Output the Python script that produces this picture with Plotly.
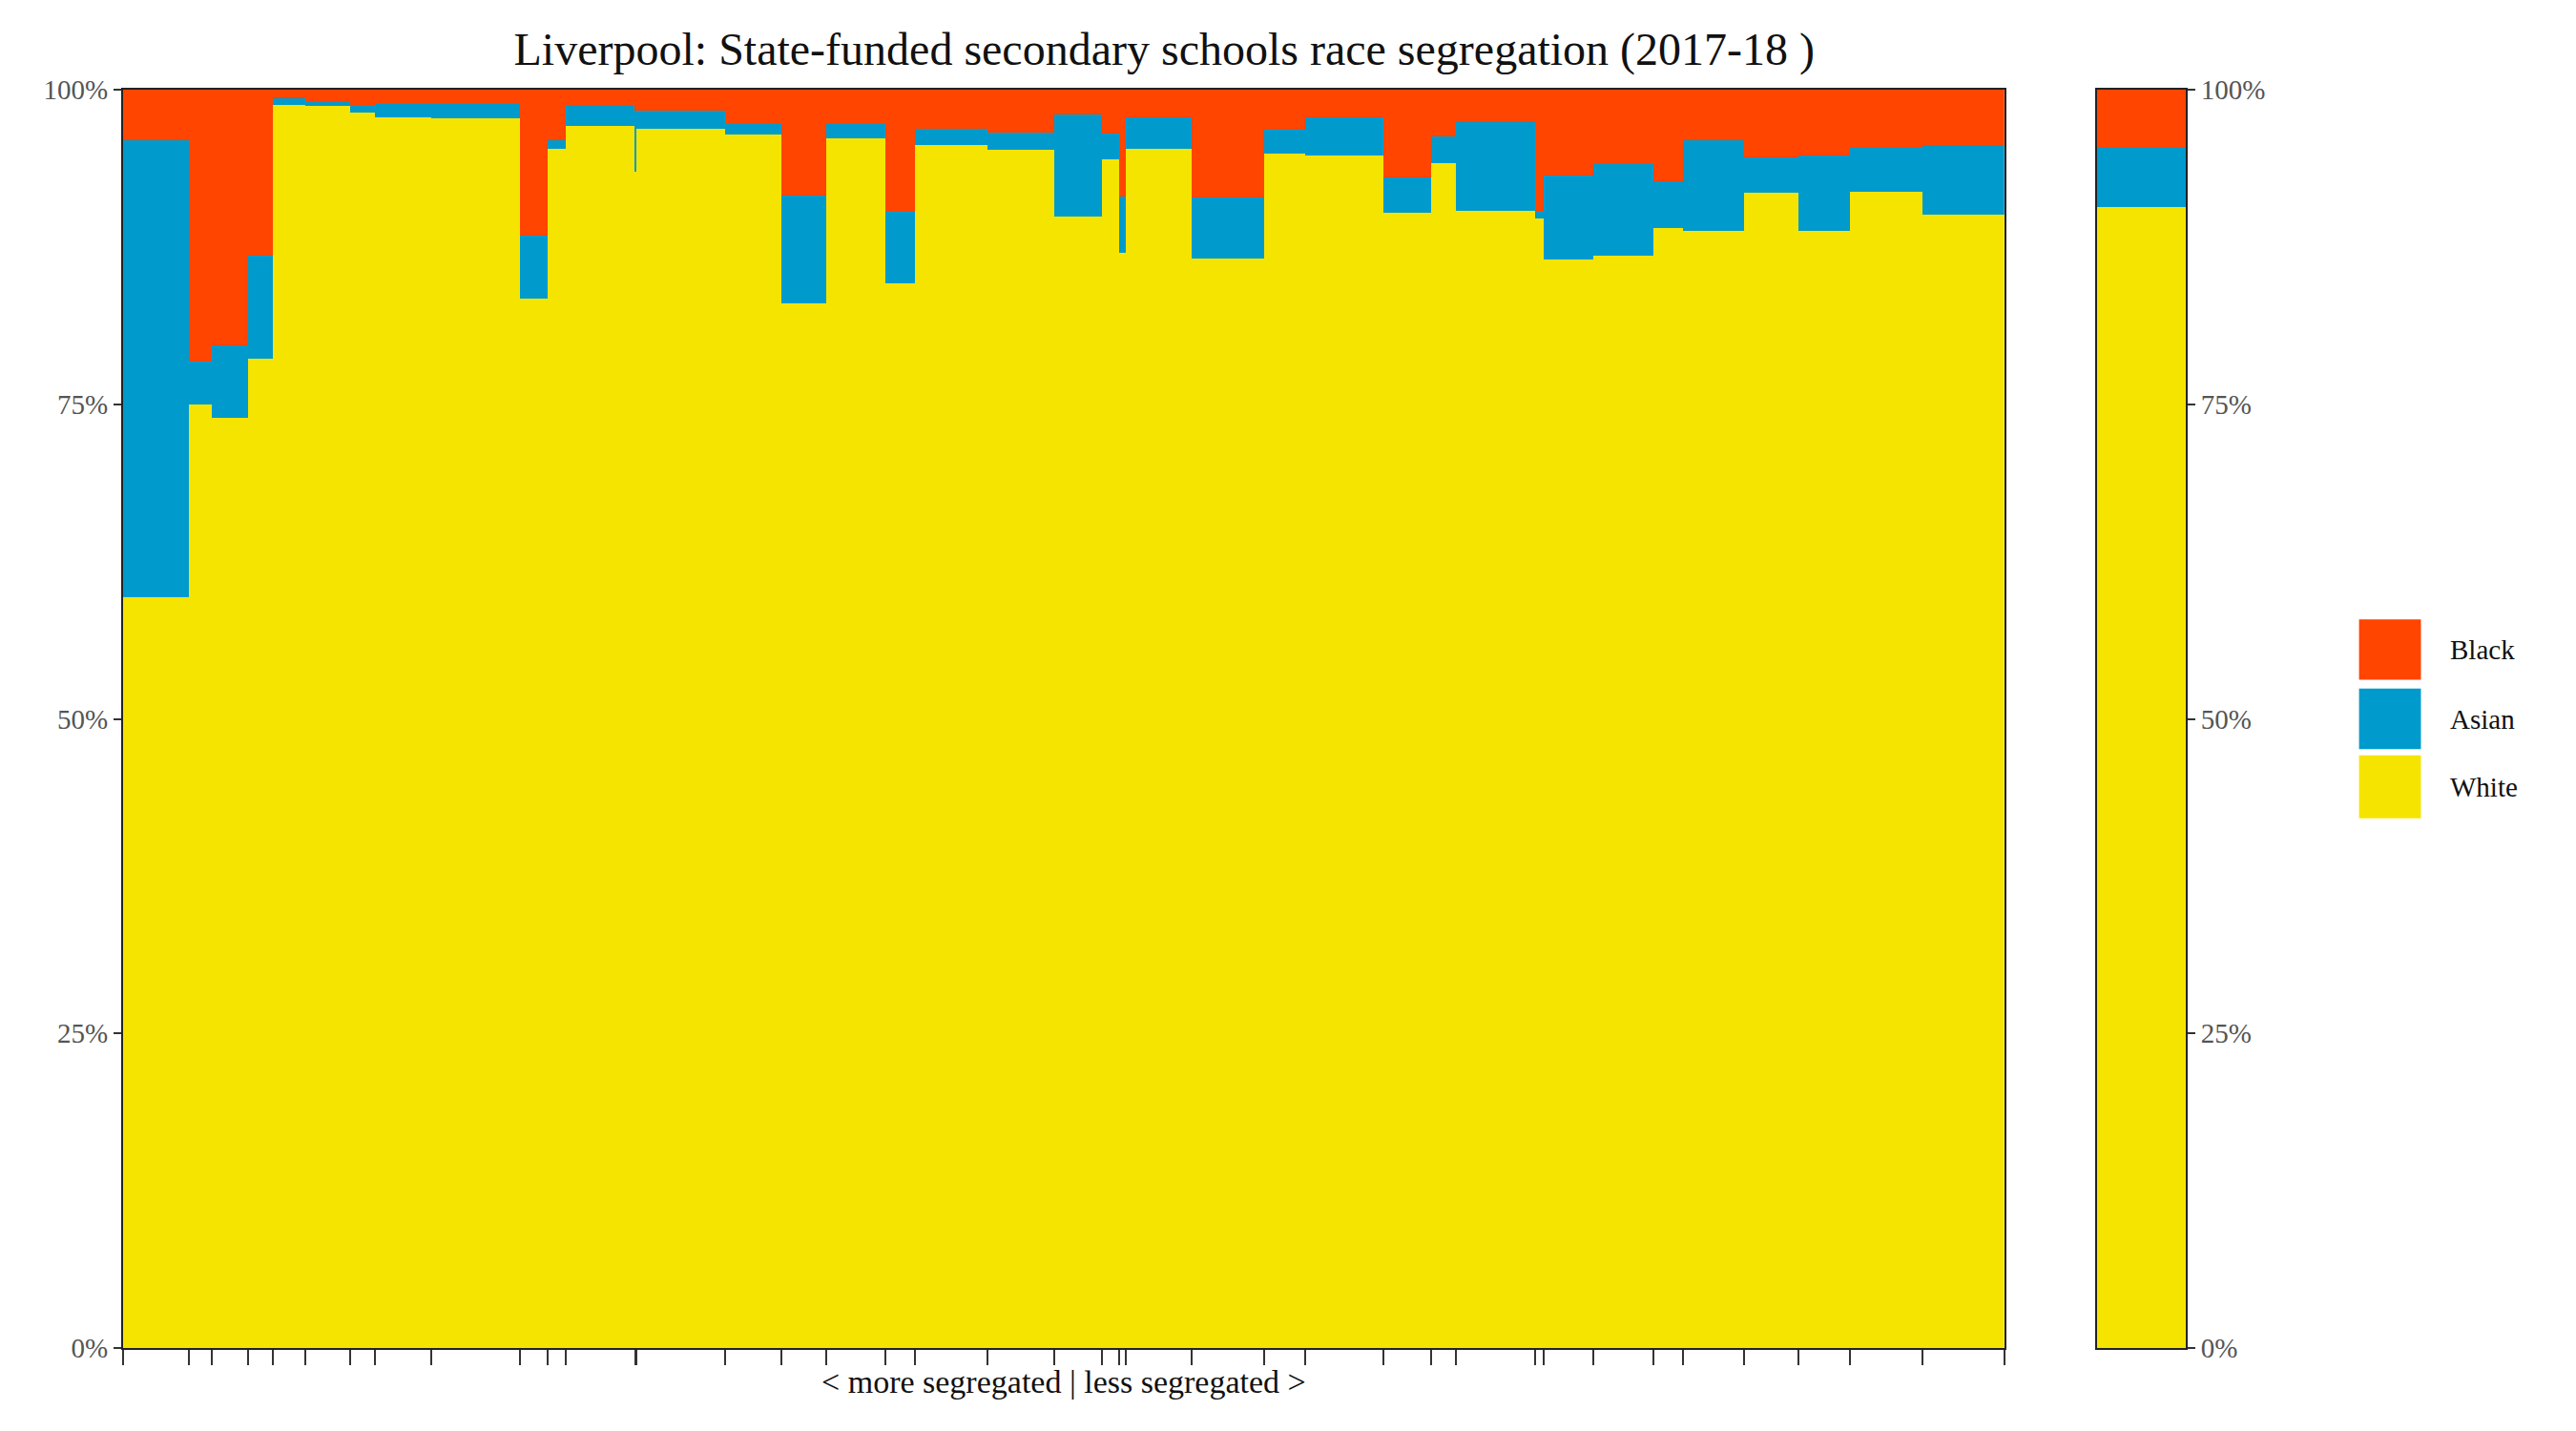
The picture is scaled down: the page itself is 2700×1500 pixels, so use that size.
import numpy as np
import plotly.graph_objects as go
from plotly.subplots import make_subplots

# school widths (pupil numbers, relative) and shares in %
widths = [40, 14, 22, 15, 20, 27, 15, 34, 54, 17, 11, 42, 1, 54, 34, 27, 36, 18,
          44, 41, 29, 10, 4, 40, 44, 25, 48, 29, 15, 48, 5, 30, 37, 18, 37, 33,
          31, 44, 50]
white = [59.7, 75.0, 73.9, 78.6, 98.8, 98.7, 98.2, 97.8, 97.7, 83.4, 95.3, 97.1,
         93.5, 96.9, 96.4, 83.0, 96.1, 84.6, 95.6, 95.2, 89.9, 94.5, 87.0, 95.3,
         86.6, 94.9, 94.8, 90.2, 94.2, 90.4, 89.8, 86.5, 86.8, 89.0, 88.8, 91.8,
         88.8, 91.9, 90.1]
asian_top = [96.0, 78.4, 79.7, 86.8, 99.3, 99.0, 98.7, 98.9, 98.9, 88.4, 96.0, 98.8,
             98.3, 98.3, 97.3, 91.6, 97.3, 90.3, 96.9, 96.6, 98.0, 96.5, 91.5, 97.8,
             91.4, 96.8, 97.8, 93.0, 96.3, 97.4, 90.3, 93.2, 94.1, 92.7, 96.0, 94.6,
             94.8, 95.4, 95.6]
total_white, total_asian_top = 90.7, 95.4

asian = [a - w for a, w in zip(asian_top, white)]
black = [100 - a for a in asian_top]

w = np.array(widths, dtype=float)
edges = np.concatenate([[0], np.cumsum(w)])
centers = edges[:-1] + w / 2

colors = {"White": "#F5E400", "Asian": "#009ACD", "Black": "#FF4500"}
series = {"White": white, "Asian": asian, "Black": black}
totals = {"White": total_white, "Asian": total_asian_top - total_white,
          "Black": 100 - total_asian_top}

fig = make_subplots(rows=1, cols=2, column_widths=[0.955, 0.045],
                    horizontal_spacing=0.045)
for name in ["White", "Asian", "Black"]:
    fig.add_trace(go.Bar(x=centers, y=series[name], width=w, name=name,
                         marker=dict(color=colors[name], line_width=0),
                         showlegend=False), row=1, col=1)
    fig.add_trace(go.Bar(x=[0.5], y=[totals[name]], width=[1], name=name,
                         marker=dict(color=colors[name], line_width=0),
                         showlegend=False), row=1, col=2)

font = "Liberation Serif"
axis_common = dict(showline=True, mirror=True, linecolor="#222", linewidth=2,
                   showgrid=False, zeroline=False)
fig.update_xaxes(row=1, col=1, range=[0, edges[-1]], tickvals=edges, ticktext=[""] * len(edges),
                 ticks="outside", ticklen=16, tickwidth=2, tickcolor="#333",
                 title=dict(text="&lt; more segregated | less segregated &gt;",
                            font=dict(size=34, color="#111"), standoff=4), **axis_common)
fig.update_xaxes(row=1, col=2, range=[0, 1], showticklabels=False, ticks="", **axis_common)
ytick = dict(range=[0, 100], tickvals=[0, 25, 50, 75, 100],
             ticktext=["0%", "25%", "50%", "75%", "100%"], ticks="outside",
             ticklen=8, tickwidth=2, tickcolor="#333",
             tickfont=dict(size=29, color="#555"), **axis_common)
fig.update_yaxes(row=1, col=1, **ytick)
fig.update_yaxes(row=1, col=2, side="right", **ytick)

# legend drawn as large swatches
legend_items = [("Black", 0.579, 0.531), ("Asian", 0.524, 0.476), ("White", 0.471, 0.421)]
for name, y1, y0 in legend_items:
    fig.add_shape(type="rect", xref="paper", yref="paper", x0=1.084, x1=1.114,
                  y0=y0, y1=y1, fillcolor=colors[name], line_width=0)
    fig.add_annotation(xref="paper", yref="paper", x=1.127, y=(y0 + y1) / 2,
                       text=name, showarrow=False, xanchor="left", yanchor="middle",
                       font=dict(size=29, color="#111"))

fig.update_layout(
    barmode="stack", bargap=0,
    width=2700, height=1500,
    paper_bgcolor="white", plot_bgcolor="white",
    font=dict(family=font, color="#111"),
    title=dict(text="Liverpool: State-funded secondary schools race segregation (2017-18 )",
               x=0.449, xanchor="center", y=0.971, yanchor="middle",
               font=dict(size=48, color="#111")),
    margin=dict(l=121, r=417, t=86, b=95),
)
fig.write_html("out.html")
